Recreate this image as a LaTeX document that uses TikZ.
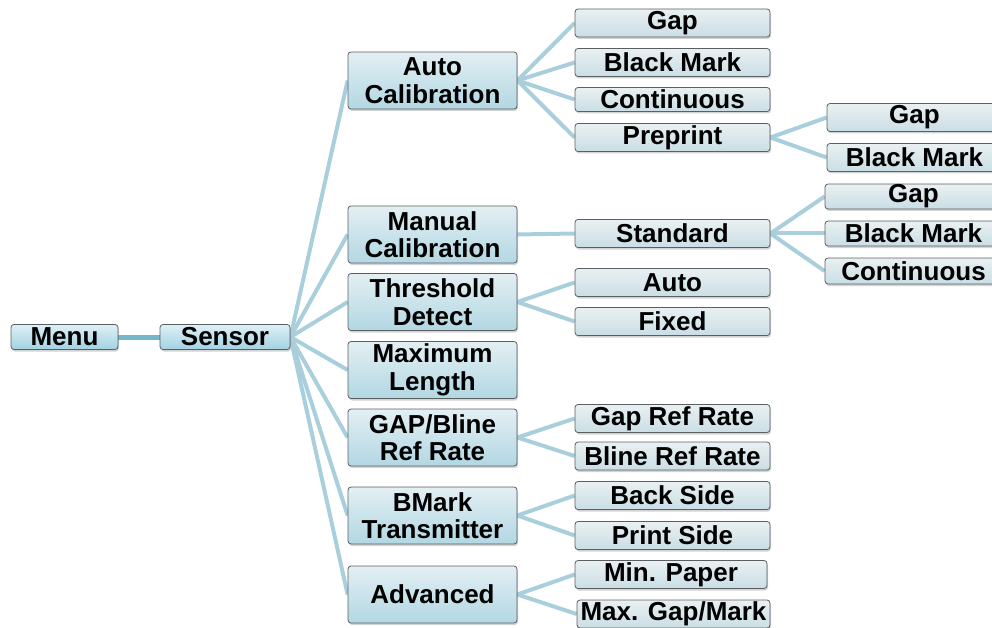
\documentclass[tikz,border=0pt]{standalone}
\usepackage{fontspec}
\setmainfont{Liberation Sans}
\usepackage{tikz}
\usetikzlibrary{shadows,backgrounds}
\usepackage{xcolor}
\definecolor{linkblue}{HTML}{A9CFDC}
\definecolor{rootblue}{HTML}{74B6CA}
\definecolor{boxedge}{HTML}{5A5F62}
\definecolor{roottop}{HTML}{DDF0F6}
\definecolor{rootbot}{HTML}{A3D2E2}
\definecolor{cattop}{HTML}{E3EFF3}
\definecolor{catbot}{HTML}{B2D7E3}
\definecolor{opttop}{HTML}{E9F0F2}
\definecolor{optbot}{HTML}{CADEE5}

\tikzset{
    tree/.style={x=1pt, y=-1pt, font=\fontsize{26}{27.5}\selectfont\bfseries},
    basebox/.style={draw=boxedge, line width=0.8pt, rounded corners=3pt, inner sep=0pt, align=center,
        drop shadow={shadow xshift=1pt, shadow yshift=-2pt, opacity=0.35}},
    rootbox/.style={basebox, top color=roottop, bottom color=rootbot, minimum height=25pt},
    catbox/.style={basebox, top color=cattop, bottom color=catbot, minimum width=169pt, minimum height=57pt},
    optbox/.style={basebox, top color=opttop, bottom color=optbot, minimum width=195pt, minimum height=28pt},
    link/.style={draw=linkblue, line width=4pt},
}

\begin{document}
\begin{tikzpicture}[tree]
    \useasboundingbox (0,0) rectangle (992,628);
    % first levels
    \node[rootbox, minimum width=107pt] (menu) at (64.5,337) {Menu};
    \node[rootbox, minimum width=130pt] (sensor) at (225,337) {Sensor};
    % sensor entries
    \node[catbox] (autocal) at (432.5,80.5) {Auto\\Calibration};
    \node[catbox] (mancal) at (432.5,234.5) {Manual\\Calibration};
    \node[catbox] (thresh) at (432.5,302) {Threshold\\Detect};
    \node[catbox] (maxlen) at (432.5,370) {Maximum\\Length};
    \node[catbox] (refrate) at (432.5,437.5) {GAP/Bline\\Ref Rate};
    \node[catbox] (bmark) at (432.5,515.5) {BMark\\Transmitter};
    \node[catbox] (adv) at (432.5,594.5) {Advanced};
    % options
    \node[optbox] (acgap) at (672.5,23) {Gap};
    \node[optbox] (acblack) at (672.5,62.5) {Black Mark};
    \node[optbox, minimum height=24pt] (accont) at (672.5,99.5) {Continuous};
    \node[optbox] (acpre) at (672.5,137.5) {Preprint};
    \node[optbox] (mcstd) at (672.5,233.5) {Standard};
    \node[optbox] (thauto) at (672.5,282.5) {Auto};
    \node[optbox] (thfixed) at (672.5,321.5) {Fixed};
    \node[optbox] (gaprate) at (672.5,418.5) {Gap Ref Rate};
    \node[optbox] (blinerate) at (672.5,456) {Bline Ref Rate};
    \node[optbox] (backside) at (672.5,495.5) {Back Side};
    \node[optbox] (printside) at (672.5,535.5) {Print Side};
    \node[optbox, minimum width=192pt] (minpaper) at (671,574.5) {Min. Paper};
    \node[optbox, minimum width=193pt] (maxgap) at (673.5,614) {Max. Gap/Mark};
    % third level
    \node[optbox, minimum width=175pt] (pregap) at (914.5,117.5) {Gap};
    \node[optbox, minimum width=175pt] (preblack) at (914.5,157.5) {Black Mark};
    \node[optbox, minimum width=177pt, minimum height=25pt] (stdgap) at (913.5,196.5) {Gap};
    \node[optbox, minimum width=177pt, minimum height=25pt] (stdblack) at (913.5,233.5) {Black Mark};
    \node[optbox, minimum width=177pt, minimum height=26pt] (stdcont) at (913.5,271) {Continuous};

    \begin{pgfonlayer}{background}
        \draw[link, draw=rootblue, line width=5pt] (menu) -- (sensor);
        \foreach \n in {autocal,mancal,thresh,maxlen,refrate,bmark,adv}
            \draw[link] (sensor.east) -- (\n.west);
        \foreach \n in {acgap,acblack,accont,acpre}
            \draw[link] (autocal.east) -- (\n.west);
        \draw[link] (mancal.east) -- (mcstd.west);
        \draw[link] (thresh.east) -- (thauto.west);
        \draw[link] (thresh.east) -- (thfixed.west);
        \draw[link] (refrate.east) -- (gaprate.west);
        \draw[link] (refrate.east) -- (blinerate.west);
        \draw[link] (bmark.east) -- (backside.west);
        \draw[link] (bmark.east) -- (printside.west);
        \draw[link] (adv.east) -- (minpaper.west);
        \draw[link] (adv.east) -- (maxgap.west);
        \draw[link] (acpre.east) -- (pregap.west);
        \draw[link] (acpre.east) -- (preblack.west);
        \foreach \n in {stdgap,stdblack,stdcont}
            \draw[link] (mcstd.east) -- (\n.west);
    \end{pgfonlayer}
\end{tikzpicture}
\end{document}
